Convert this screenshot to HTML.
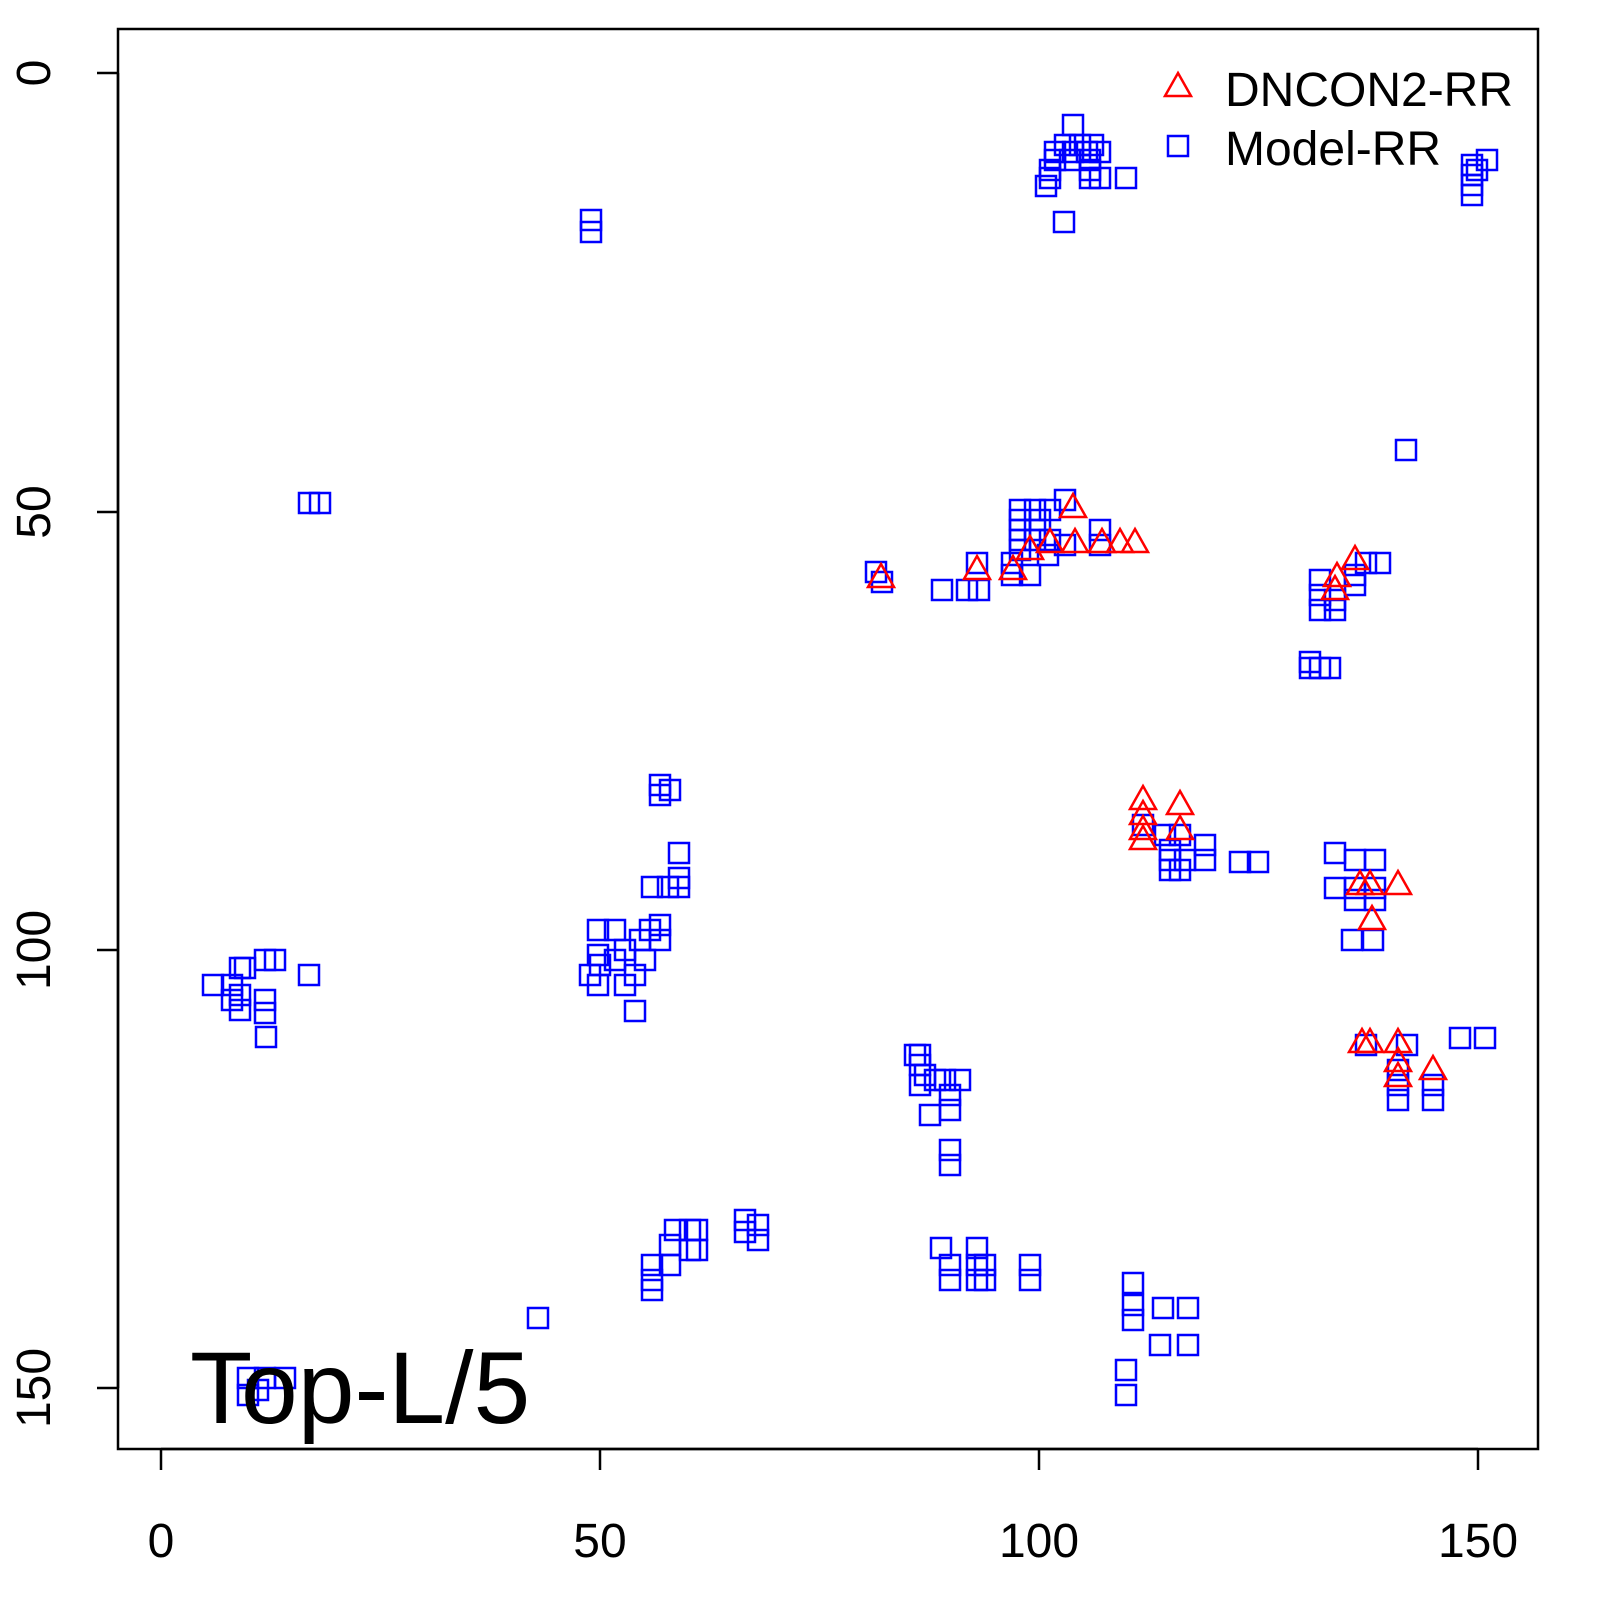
<!DOCTYPE html>
<html><head><style>html,body{margin:0;padding:0;background:#fff}svg{display:block}text{font-family:"Liberation Sans",sans-serif}</style></head>
<body>
<svg width="1600" height="1600" viewBox="0 0 1600 1600" xmlns="http://www.w3.org/2000/svg">
<defs>
<rect id="s" x="-10" y="-10" width="20" height="20" fill="none" stroke="#0000ff" stroke-width="2.5"/>
<path id="t" d="M0,-14 L13,9 L-13,9 Z" fill="none" stroke="#ff0000" stroke-width="2.5"/>
</defs>
<rect x="118" y="29" width="1420" height="1420" fill="none" stroke="#000" stroke-width="2.5"/>
<g stroke="#000" stroke-width="2.5">
<line x1="161" y1="1449" x2="1478" y2="1449"/>
<line x1="161" y1="1449" x2="161" y2="1470"/><line x1="600" y1="1449" x2="600" y2="1470"/><line x1="1039" y1="1449" x2="1039" y2="1470"/><line x1="1478" y1="1449" x2="1478" y2="1470"/>
<line x1="118" y1="73" x2="118" y2="1388"/>
<line x1="97" y1="73" x2="118" y2="73"/><line x1="97" y1="512" x2="118" y2="512"/><line x1="97" y1="950" x2="118" y2="950"/><line x1="97" y1="1388" x2="118" y2="1388"/>
</g>
<g font-size="48" text-anchor="middle" fill="#000">
<text x="161" y="1557">0</text><text x="600" y="1557">50</text><text x="1039" y="1557">100</text><text x="1478" y="1557">150</text>
<text transform="translate(50,73) rotate(-90)">0</text>
<text transform="translate(50,512) rotate(-90)">50</text>
<text transform="translate(50,950) rotate(-90)">100</text>
<text transform="translate(50,1388) rotate(-90)">150</text>
</g>
<g id="sq"></g>
<g id="tr"></g>
<use href="#t" x="1178" y="87"/>
<use href="#s" x="1178" y="146"/>
<text x="1225" y="106" font-size="48">DNCON2-RR</text>
<text x="1225" y="165" font-size="48">Model-RR</text>
<text x="190" y="1423" font-size="102">Top-L/5</text>
<script>
var S=[[1073,125],[1065,145],[1080,145],[1093,145],[1055,152],[1073,152],[1087,152],[1100,152],[1055,160],[1070,160],[1090,160],[1050,170],[1090,170],[1050,178],[1090,178],[1100,178],[1126,178],[1046,186],[1064,222],
[591,220],[591,232],[1487,160],[1472,165],[1472,175],[1472,185],[1472,195],[1477,170],[1406,450],[309,503],[320,503],
[876,572],[882,582],[942,590],[967,590],[979,590],[977,563],[1012,563],[1012,575],[1030,575],[1020,510],[1035,510],[1050,510],[1065,500],[1020,520],[1040,520],[1020,530],[1035,530],[1020,540],[1035,540],[1050,540],[1065,545],[1020,550],[1048,555],[1100,545],[1100,530],
[1366,563],[1380,563],[1355,575],[1355,585],[1320,580],[1320,595],[1335,600],[1320,610],[1335,610],[1310,662],[1320,668],[1330,668],[1310,668],
[1143,825],[1165,835],[1180,835],[1205,845],[1170,850],[1170,860],[1185,860],[1205,860],[1240,862],[1258,862],[1170,870],[1180,870],[1335,853],[1355,860],[1375,860],[1335,888],[1355,888],[1375,888],[1355,900],[1375,900],[1352,940],[1373,940],
[1366,1045],[1407,1045],[1398,1070],[1398,1085],[1398,1100],[1433,1085],[1433,1100],[1460,1038],[1485,1038],
[213,985],[232,985],[240,968],[245,968],[265,960],[275,960],[240,995],[232,1000],[240,1010],[265,1000],[265,1013],[266,1037],[309,975],
[590,975],[598,930],[598,955],[598,985],[615,930],[625,950],[625,985],[635,975],[635,1011],[645,960],[650,930],[660,925],[660,940],[600,965],[615,960],[640,940],[660,785],[660,795],[670,790],[679,853],[652,887],[668,887],[679,887],[679,878],
[920,1055],[915,1055],[920,1065],[925,1075],[935,1080],[945,1080],[960,1080],[950,1095],[930,1115],[950,1110],[950,1150],[950,1165],[920,1085],
[941,1248],[950,1265],[950,1280],[977,1248],[977,1265],[985,1265],[977,1280],[985,1280],[1030,1265],[1030,1280],
[1133,1283],[1133,1305],[1133,1320],[1163,1308],[1188,1308],[1160,1345],[1188,1345],[1126,1370],[1126,1395],
[652,1265],[652,1280],[652,1290],[670,1265],[670,1245],[675,1230],[690,1230],[697,1230],[697,1250],[690,1250],[745,1220],[758,1225],[745,1232],[758,1240],
[538,1318],[248,1378],[248,1395],[265,1378],[285,1378],[258,1390]];
var T=[[1073,508],[1075,543],[1050,543],[1030,550],[1013,570],[977,570],[881,578],[1102,543],[1120,543],[1135,543],[1355,560],[1337,577],[1335,590],
[1143,800],[1180,805],[1143,815],[1143,830],[1180,830],[1143,840],[1370,885],[1398,885],[1360,885],[1372,920],
[1362,1043],[1370,1043],[1398,1043],[1398,1062],[1398,1077],[1433,1070]];
var ns="http://www.w3.org/2000/svg";
function add(g,id,arr){var e=document.getElementById(g);arr.forEach(function(p){var u=document.createElementNS(ns,"use");u.setAttribute("href","#"+id);u.setAttribute("x",p[0]);u.setAttribute("y",p[1]);e.appendChild(u);});}
add("sq","s",S);add("tr","t",T);
</script>
</svg>
</body></html>
